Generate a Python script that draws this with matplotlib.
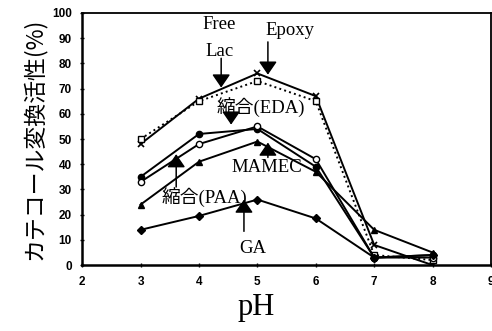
import matplotlib
matplotlib.use('Agg')
import matplotlib.pyplot as plt

ph = [3, 4, 5, 6, 7, 8]
free_lac = [48, 66, 76, 67, 8, 0]
epoxy = [50, 65, 73, 65, 4, 2]
eda = [35, 52, 54, 39, 3, 4]
paa = [33, 48, 55, 42, 3, 3]
mamec = [24, 41, 49, 37, 14, 5]
ga = [14, 19.5, 26, 18.5, 3, 4]

serif = ['Liberation Serif', 'Noto Sans CJK JP']
cjk = ['Noto Sans CJK JP', 'DejaVu Sans']

fig = plt.figure(figsize=(4.92, 3.31), dpi=100)
ax = fig.add_axes([0.167, 0.199, 0.831, 0.762])

kw = dict(color='black', lw=1.4, ms=4.5)
ax.plot(ph, free_lac, marker='x', mew=1.2, **kw)
ax.plot(ph, epoxy, marker='s', mfc='white', ls=':', **kw)
ax.plot(ph, eda, marker='o', **kw)
ax.plot(ph, paa, marker='o', mfc='white', **kw)
ax.plot(ph, mamec, marker='^', **kw)
ax.plot(ph, ga, marker='D', ms=3.8, color='black', lw=1.4)

# labels with vertical arrows: (text, text x, text y, arrow x, arrow start, arrow tip)
labels = [
    ('Free\nLac', 4.35, 90, 4.38, 82, 70.4),
    ('Epoxy', 5.56, 93, 5.18, 88.5, 75.5),
    ('縮合(EDA)', 5.05, 62.5, 4.55, 59.5, 55.7),
    ('MAMEC', 5.16, 38.7, 5.18, 42.7, 48.6),
    ('縮合(PAA)', 4.1, 27, 3.61, 31, 44),
    ('GA', 4.92, 6.7, 4.77, 13.4, 26),
]
arrow = dict(arrowstyle='-|>,head_width=0.55,head_length=0.8', color='black', lw=1.1,
             shrinkA=0, shrinkB=0, mutation_scale=10)
for txt, tx, ty, axx, y0, y1 in labels:
    ax.text(tx, ty, txt, family=serif, fontsize=13.5, ha='center', va='center',
            linespacing=1.75)
    ax.annotate('', xy=(axx, y1), xytext=(axx, y0), arrowprops=arrow)

ax.set_xlim(2, 9)
ax.set_ylim(0, 100)
ax.set_xticks(range(2, 10))
ax.set_yticks(range(0, 101, 10))
for lab in ax.get_xticklabels() + ax.get_yticklabels():
    lab.set_family('Liberation Sans')
    lab.set_fontweight('bold')
    lab.set_fontsize(8.5)
ax.tick_params(direction='inout', length=3, width=1, pad=6)
for side in ['left', 'bottom']:
    ax.spines[side].set_linewidth(1.8)
for side in ['top', 'right']:
    ax.spines[side].set_linewidth(1.3)

ax.set_xlabel('pH', family=serif, fontsize=22, va='baseline')
ax.xaxis.set_label_coords(0.425, -0.198)
ax.set_ylabel('カテコール変換活性(%)', family=cjk, fontsize=16.5, labelpad=4)

fig.savefig('out.png', dpi=100)
